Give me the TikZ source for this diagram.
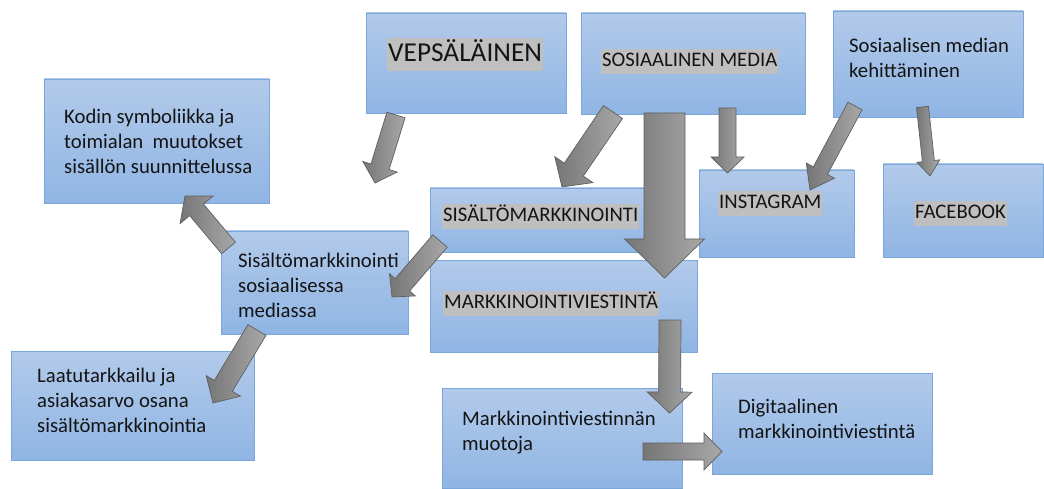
\documentclass[tikz,border=0pt]{standalone}
\usepackage{fontspec}
\setmainfont{Carlito}
\usetikzlibrary{calc}
\definecolor{boxtop}{RGB}{178,202,234}
\definecolor{boxbot}{RGB}{144,181,228}
\definecolor{boxline}{RGB}{122,166,218}
\definecolor{hlgray}{RGB}{191,191,191}
\definecolor{arrdark}{RGB}{118,118,118}
\definecolor{arrlight}{RGB}{168,168,168}
\definecolor{arrline}{RGB}{95,95,95}
\definecolor{txt}{RGB}{20,20,20}
\newcommand\blockarr[5]{% tail, tip, shaft half width, head half width, head length
  \coordinate (bH) at ($(#2)!#5!(#1)$);
  \shadedraw[barrow] ($(#1)!#3!90:(#2)$) -- ($(bH)!#3!90:(#2)$) -- ($(bH)!#4!90:(#2)$) -- (#2)
    -- ($(bH)!#4!-90:(#2)$) -- ($(bH)!#3!-90:(#2)$) -- ($(#1)!#3!-90:(#2)$) -- cycle;
}
\tikzset{
  box/.style 2 args={draw=boxline, line width=0.8pt, top color=boxtop, bottom color=boxbot,
    inner sep=0pt, minimum width=#1, minimum height=#2},
  barrow/.style={draw=arrline, line width=0.7pt, left color=arrdark, right color=arrlight, line join=miter},
  lbl/.style={anchor=north west, inner sep=0pt, align=left, text=txt, font=\fontsize{20.7}{25}\selectfont},
  hl/.style={anchor=north west, inner xsep=1pt, inner ysep=0pt, fill=hlgray, text=txt, font=\fontsize{20.7}{25}\selectfont},
}
\begin{document}
\begin{tikzpicture}[x=1pt,y=-1pt]
\useasboundingbox (0,0) rectangle (1044,489);
\fill[white] (0,0) rectangle (1044,489);
% boxes
\node[box={225pt}{124pt}] (kodin) at (156.5,141) {};
\node[box={187pt}{103pt}] (sissos) at (314.5,282.5) {};
\node[box={243pt}{109pt}] (laatu) at (132.5,405.5) {};
\node[box={200pt}{100pt}] (veps) at (466,63) {};
\node[box={224pt}{101pt}] (sos) at (693,63.5) {};
\node[box={190pt}{106pt}] (keh) at (928,64) {};
\node[box={155pt}{87pt}] (insta) at (776.5,213.5) {};
\node[box={160pt}{93pt}] (fb) at (963,210.5) {};
\node[box={215pt}{64pt}] (sisalto) at (537.5,220) {};
\node[box={267pt}{92pt}] (markk) at (563.5,306) {};
\node[box={240pt}{100pt}] (muot) at (562,438) {};
\node[box={220pt}{101pt}] (digi) at (822,423.5) {};
% connector end points
\coordinate (a1s) at (396,115);   \coordinate (a1e) at (375,183);
\coordinate (a2s) at (613,112);   \coordinate (a2e) at (562,187);
\coordinate (a3s) at (664.5,113); \coordinate (a3e) at (664.5,278);
\coordinate (a4s) at (727.5,108); \coordinate (a4e) at (727.5,173);
\coordinate (a5s) at (855,106);   \coordinate (a5e) at (810,190);
\coordinate (a6s) at (922.5,107); \coordinate (a6e) at (930,176);
\coordinate (a7s) at (228.5,248); \coordinate (a7e) at (185,196);
\coordinate (a8s) at (440,241);   \coordinate (a8e) at (392,297);
\coordinate (a9s) at (257,330);   \coordinate (a9e) at (213,403);
\coordinate (a10s) at (670,320);  \coordinate (a10e) at (669.5,413);
\coordinate (a11s) at (643,451.5);\coordinate (a11e) at (722,451.5);
% block arrows
\blockarr{a1s}{a1e}{9.5pt}{18pt}{17pt}
\blockarr{a2s}{a2e}{11.5pt}{23pt}{21pt}
\blockarr{a3s}{a3e}{20.5pt}{40pt}{39pt}
\blockarr{a4s}{a4e}{8.5pt}{16.5pt}{16pt}
\blockarr{a5s}{a5e}{8pt}{16pt}{22pt}
\blockarr{a6s}{a6e}{6pt}{11.5pt}{15pt}
\blockarr{a7s}{a7e}{9pt}{21.5pt}{18pt}
\blockarr{a8s}{a8e}{9.5pt}{17pt}{16pt}
\blockarr{a9s}{a9e}{10.5pt}{20pt}{20pt}
\blockarr{a10s}{a10e}{11pt}{22.5pt}{21pt}
\blockarr{a11s}{a11e}{8.5pt}{18.5pt}{18pt}
% texts
\node[hl, font=\fontsize{27.3}{33}\selectfont] (vepst) at (387,38) {\strut VEPSÄLÄINEN};
\node[hl] (sost) at (601,49) {\strut SOSIAALINEN MEDIA};
\node[hl] (sisaltot) at (442,204) {\strut SISÄLTÖMARKKINOINTI};
\node[hl] (markkt) at (443,291) {\strut MARKKINOINTIVIESTINTÄ};
\node[hl] (instat) at (718,191) {\strut INSTAGRAM};
\node[hl] (fbt) at (914,201) {\strut FACEBOOK};
\node[lbl] (kodint) at (64,105.5) {\strut Kodin symboliikka ja\\toimialan~~muutokset\\sisällön suunnittelussa};
\node[lbl] (sissost) at (238,249.5) {\strut Sisältömarkkinointi\\sosiaalisessa\\mediassa};
\node[lbl] (laatut) at (37,364.5) {\strut Laatutarkkailu ja\\asiakasarvo osana\\sisältömarkkinointia};
\node[lbl] (muott) at (462,407.5) {\strut Markkinointiviestinnän\\muotoja};
\node[lbl] (digit) at (738,395.5) {\strut Digitaalinen\\markkinointiviestintä};
\node[lbl] (keht) at (849,34.5) {\strut Sosiaalisen median\\kehittäminen};
\end{tikzpicture}
\end{document}
